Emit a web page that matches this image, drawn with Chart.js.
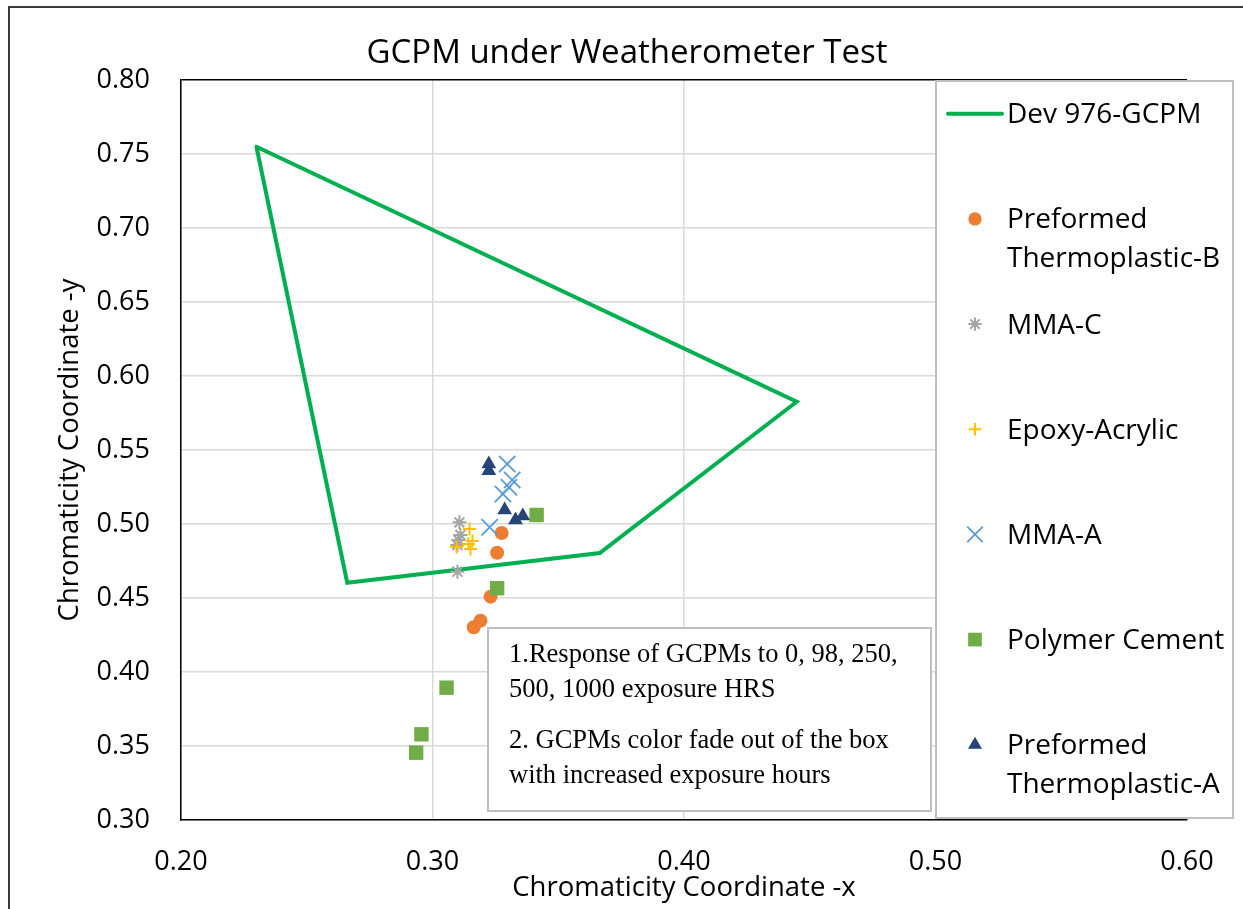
<!DOCTYPE html>
<html><head><meta charset="utf-8">
<script src="https://cdn.jsdelivr.net/npm/chart.js@4.4.1/dist/chart.umd.min.js"></script>
<style>
html,body{margin:0;padding:0;background:#fff;}
#wrap{position:relative;width:1243px;height:909px;overflow:hidden;font-family:'Open Sans',sans-serif;color:#000;background:#fff;}
#c{position:absolute;left:0;top:0;}
#frame{position:absolute;left:8px;top:6px;width:1400px;height:1100px;border-left:2px solid #3a3a3a;border-top:2px solid #3a3a3a;pointer-events:none;}
#title{position:absolute;left:0;width:1254px;top:29px;text-align:center;font-size:33px;line-height:44px;white-space:nowrap;}
.leg{position:absolute;left:1007px;width:226px;font-size:28px;line-height:39px;white-space:normal;}
#note{position:absolute;left:487px;top:627px;width:445px;height:185px;box-sizing:border-box;border:2px solid #bfbfbf;background:#fff;font-family:'Liberation Serif','Times New Roman',serif;font-size:26.5px;line-height:35px;}
#note p{position:absolute;left:20px;margin:0;white-space:nowrap;}
</style></head>
<body>
<div id="wrap">
  <canvas id="c" width="1243" height="909"></canvas>
  <div id="frame"></div>
  <div id="title">GCPM under Weatherometer Test</div>
  <div id="legendText"></div>
  <div id="note">
    <p style="top:7px">1.Response of GCPMs to 0, 98, 250,<br>500, 1000 exposure HRS</p>
    <p style="top:93px">2. GCPMs color fade out of the box<br>with increased exposure hours</p>
  </div>
</div>
<script>
// ---- data ----
const seriesNames = ['Dev 976-GCPM','Preformed Thermoplastic-B','MMA-C','Epoxy-Acrylic','MMA-A','Polymer Cement','Preformed Thermoplastic-A'];
const boxX = [0.230, 0.4448, 0.3665, 0.2661, 0.230];
const boxY = [0.7549, 0.5826, 0.4804, 0.4603, 0.7549];
const ptbX = [0.3275, 0.3257, 0.3231, 0.3191, 0.3164];
const ptbY = [0.4939, 0.4806, 0.4509, 0.4347, 0.4302];
const mmacX = [0.3107, 0.3111, 0.3103, 0.3099, 0.3099];
const mmacY = [0.5011, 0.4926, 0.4892, 0.4858, 0.4678];
const epoxyX = [0.3147, 0.3159, 0.3143, 0.3096, 0.3151];
const epoxyY = [0.4966, 0.4885, 0.4865, 0.4845, 0.4831];
const mmaaX = [0.3297, 0.3317, 0.3304, 0.3280, 0.3227];
const mmaaY = [0.5405, 0.5297, 0.5248, 0.5203, 0.4978];
const pcX = [0.3414, 0.3257, 0.3056, 0.2956, 0.2935];
const pcY = [0.5061, 0.4566, 0.3894, 0.3579, 0.3455];
const ptaX = [0.3224, 0.3224, 0.3287, 0.3330, 0.3359];
const ptaY = [0.5405, 0.5360, 0.5095, 0.5027, 0.5054];
const xTickValues = [0.20, 0.30, 0.40, 0.50, 0.60];
const yTickValues = [0.30, 0.35, 0.40, 0.45, 0.50, 0.55, 0.60, 0.65, 0.70, 0.75, 0.80];

// ---- styles ----
const FONT = 'Open Sans';
const pts = (xs, ys) => xs.map((x, i) => ({x: x, y: ys[i]}));
const markerSeries = [
  {xs: ptbX, ys: ptbY, style: 'circle', r: 7, fill: '#ED7D31', stroke: '#ED7D31', bw: 0},
  {xs: mmacX, ys: mmacY, style: 'star', r: 7, fill: 'rgba(0,0,0,0)', stroke: '#A5A5A5', bw: 2},
  {xs: epoxyX, ys: epoxyY, style: 'cross', r: 6.5, fill: 'rgba(0,0,0,0)', stroke: '#FFC000', bw: 2},
  {xs: mmaaX, ys: mmaaY, style: 'crossRot', r: 11.5, fill: 'rgba(0,0,0,0)', stroke: '#5B9BD5', bw: 1.8},
  {xs: pcX, ys: pcY, style: 'rect', r: 10.2, fill: '#70AD47', stroke: '#70AD47', bw: 0},
  {xs: ptaX, ys: ptaY, style: 'triangle', r: 8.5, fill: '#264478', stroke: '#264478', bw: 0}
];

const datasets = [{
  label: seriesNames[0], data: pts(boxX, boxY), showLine: true, borderColor: '#00B050',
  backgroundColor: '#00B050', borderWidth: 4, pointRadius: 0, pointHoverRadius: 0, fill: false,
  tension: 0, borderJoinStyle: 'miter', borderCapStyle: 'round', order: 10
}];
markerSeries.forEach((s, i) => {
  datasets.push({
    label: seriesNames[i + 1], data: pts(s.xs, s.ys), showLine: false,
    pointStyle: s.style, pointRadius: s.r, pointHoverRadius: s.r,
    pointBackgroundColor: s.fill, pointBorderColor: s.stroke, pointBorderWidth: s.bw,
    pointHoverBorderWidth: s.bw, backgroundColor: s.fill, borderColor: s.stroke, order: 9 - i
  });
});

// legend geometry
const LEG = {left: 936, top: 81, right: 1233, bottom: 818, markX: 975, firstY: 113.8, step: 105.15};

const legendPlugin = {
  id: 'boxLegend',
  afterDraw(chart) {
    const ctx = chart.ctx;
    ctx.save();
    ctx.fillStyle = '#fff';
    ctx.fillRect(LEG.left, LEG.top, LEG.right - LEG.left, LEG.bottom - LEG.top);
    ctx.strokeStyle = '#bfbfbf';
    ctx.lineWidth = 2;
    ctx.strokeRect(LEG.left, LEG.top, LEG.right - LEG.left, LEG.bottom - LEG.top);
    chart.data.datasets.forEach((ds, i) => {
      const y = LEG.firstY + LEG.step * i;
      if (ds.showLine) {
        ctx.strokeStyle = ds.borderColor; ctx.lineWidth = ds.borderWidth; ctx.lineCap = 'round';
        ctx.beginPath(); ctx.moveTo(948, y); ctx.lineTo(1002, y); ctx.stroke();
      } else {
        ctx.fillStyle = ds.pointBackgroundColor; ctx.strokeStyle = ds.pointBorderColor;
        ctx.lineWidth = ds.pointBorderWidth; ctx.lineCap = 'butt';
        Chart.helpers.drawPoint(ctx, {pointStyle: ds.pointStyle, radius: ds.pointRadius * 0.95,
          borderWidth: ds.pointBorderWidth, rotation: 0}, LEG.markX, y);
      }
    });
    ctx.restore();
  }
};

// legend text (real HTML text)
const lt = document.getElementById('legendText');
seriesNames.forEach((n, i) => {
  const d = document.createElement('div');
  d.className = 'leg';
  d.textContent = n;
  d.style.top = (LEG.firstY + LEG.step * i - 20.5) + 'px';
  lt.appendChild(d);
});

const gridColor = c => (c.tick && Math.abs(c.tick.value - 0.8) < 1e-9) ? '#000' : '#d9d9d9';

new Chart(document.getElementById('c'), {
  type: 'scatter',
  data: {datasets: datasets},
  plugins: [legendPlugin],
  options: {
    responsive: false, animation: false, devicePixelRatio: 1, events: [],
    layout: {padding: {top: 80, right: 56, left: 0, bottom: 0}},
    plugins: {legend: {display: false}, title: {display: false}, tooltip: {enabled: false}},
    scales: {
      x: {
        type: 'linear', position: 'bottom', min: 0.2, max: 0.6,
        afterBuildTicks: s => { s.ticks = xTickValues.map(v => ({value: v})); },
        afterFit: s => { s.height = 89; },
        ticks: {padding: 25.8, color: '#000', font: {family: FONT, size: 27}, callback: v => Number(v).toFixed(2), maxRotation: 0},
        grid: {drawTicks: false, color: '#d9d9d9', lineWidth: 1.5},
        border: {display: true, color: '#000', width: 1.5},
        title: {display: true, text: 'Chromaticity Coordinate -x', color: '#000', font: {family: FONT, size: 27.5}, padding: {top: 0, bottom: 4.5}}
      },
      y: {
        type: 'linear', position: 'left', min: 0.3, max: 0.8,
        afterBuildTicks: s => { s.ticks = yTickValues.map(v => ({value: v})); },
        afterFit: s => { s.width = 181; },
        ticks: {padding: 31, color: '#000', font: {family: FONT, size: 27}, callback: v => Number(v).toFixed(2)},
        grid: {drawTicks: false, color: gridColor, lineWidth: 1.5},
        border: {display: true, color: '#000', width: 1.5},
        title: {display: true, text: 'Chromaticity Coordinate -y', color: '#000', font: {family: FONT, size: 27.5}, padding: {top: 53.5, bottom: 0}}
      }
    }
  }
});
</script>
</body></html>
